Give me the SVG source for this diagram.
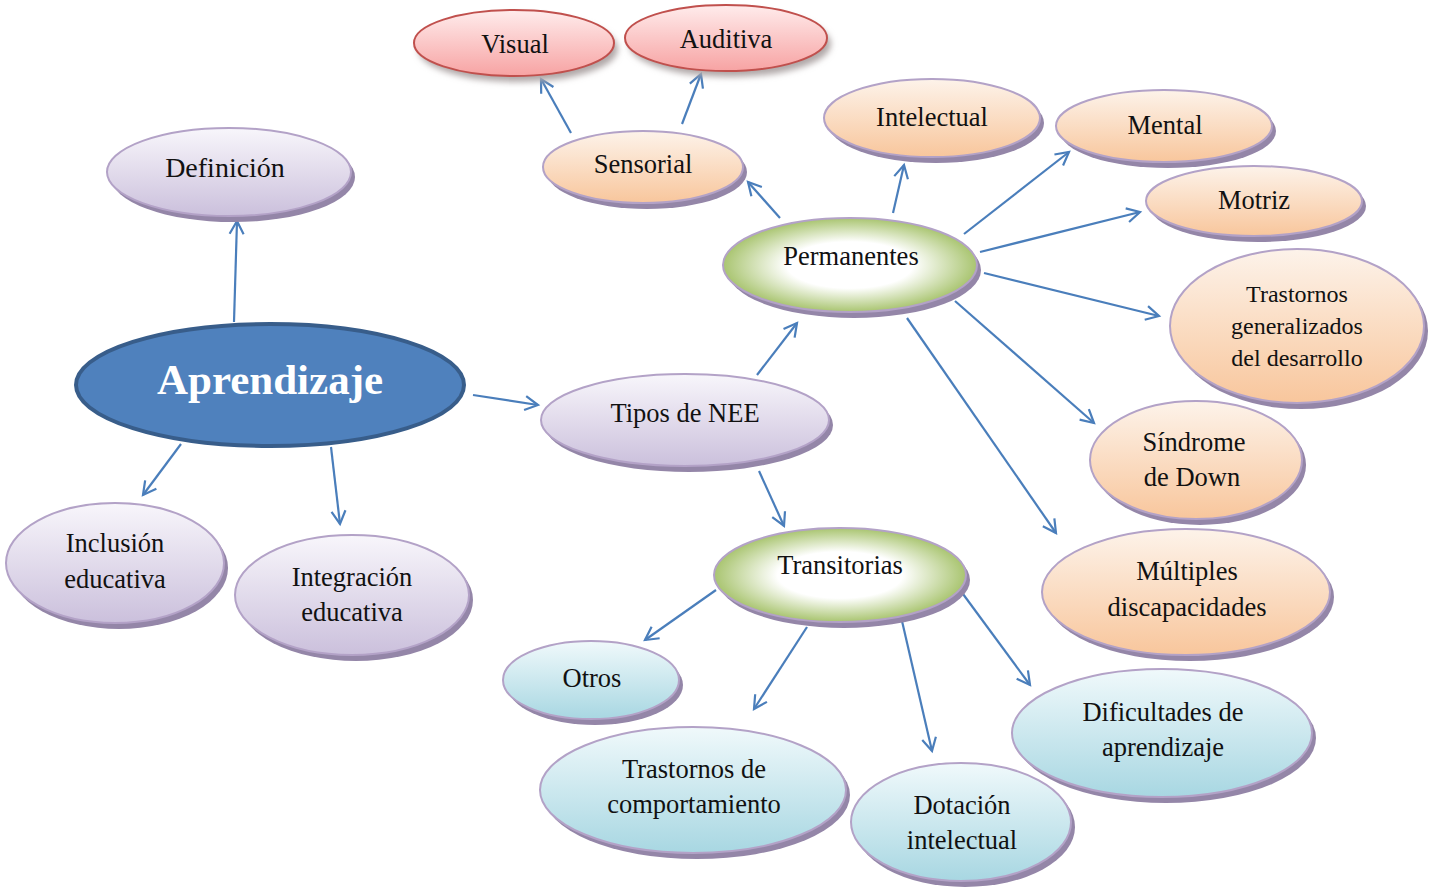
<svg xmlns="http://www.w3.org/2000/svg" width="1431" height="887" viewBox="0 0 1431 887">
<defs>
<linearGradient id="gLav" x1="0" y1="0" x2="0" y2="1"><stop offset="0" stop-color="#f8f6fb"/><stop offset="1" stop-color="#cbc0dc"/></linearGradient>
<linearGradient id="gPeach" x1="0" y1="0" x2="0" y2="1"><stop offset="0" stop-color="#fdf3ea"/><stop offset="1" stop-color="#f8c69c"/></linearGradient>
<linearGradient id="gCyan" x1="0" y1="0" x2="0" y2="1"><stop offset="0" stop-color="#f0f9fb"/><stop offset="1" stop-color="#a8d7e2"/></linearGradient>
<linearGradient id="gPink" x1="0" y1="0" x2="0" y2="1"><stop offset="0" stop-color="#ffecec"/><stop offset="1" stop-color="#f7a3a3"/></linearGradient>
<radialGradient id="gGreen" cx="0.5" cy="0.5" r="0.55"><stop offset="0" stop-color="#ffffff"/><stop offset="0.45" stop-color="#ffffff"/><stop offset="1" stop-color="#98b954"/></radialGradient>
<filter id="soft" x="-20%" y="-20%" width="140%" height="150%"><feGaussianBlur stdDeviation="3"/></filter>
<marker id="arr" markerUnits="userSpaceOnUse" markerWidth="18" markerHeight="18" refX="15" refY="9" orient="auto"><path d="M2,2 L15,9 L2,16" fill="none" stroke="#4a7ebb" stroke-width="2.2"/></marker>
</defs>
<style>
.sh{fill:#9486a8}
.shr{fill:#b0a8a8;filter:url(#soft)}
.lav{fill:url(#gLav);stroke:#b3a2c7;stroke-width:2}
.pea{fill:url(#gPeach);stroke:#b3a2c7;stroke-width:2}
.cya{fill:url(#gCyan);stroke:#b3a2c7;stroke-width:2}
.grn{fill:url(#gGreen);stroke:#b3a2c7;stroke-width:2}
.pnk{fill:url(#gPink);stroke:#c0504d;stroke-width:2}
text{font-family:"Liberation Serif","Times New Roman",serif;font-size:26.5px;fill:#111;text-anchor:middle}
.c line{stroke:#4a7ebb;stroke-width:2.2;marker-end:url(#arr)}
</style>
<rect width="1431" height="887" fill="#ffffff"/>

<g class="c" id="connectors">
<line x1="234" y1="322" x2="237" y2="221"/>
<line x1="181" y1="444" x2="143" y2="495"/>
<line x1="331" y1="447" x2="340" y2="524"/>
<line x1="473" y1="395" x2="538" y2="405"/>
<line x1="757" y1="375" x2="797" y2="323"/>
<line x1="759" y1="471" x2="784" y2="526"/>
<line x1="780" y1="218" x2="748" y2="182"/>
<line x1="571" y1="133" x2="541" y2="79"/>
<line x1="682" y1="124" x2="701" y2="74"/>
<line x1="893" y1="213" x2="904" y2="165"/>
<line x1="964" y1="234" x2="1069" y2="152"/>
<line x1="980" y1="252" x2="1140" y2="212"/>
<line x1="984" y1="273" x2="1159" y2="316"/>
<line x1="955" y1="301" x2="1094" y2="423"/>
<line x1="907" y1="318" x2="1056" y2="533"/>
<line x1="716" y1="590" x2="645" y2="640"/>
<line x1="807" y1="627" x2="754" y2="709"/>
<line x1="902" y1="621" x2="932" y2="751"/>
<line x1="963" y1="594" x2="1030" y2="685"/>
</g>

<g id="aprendizaje">
<ellipse cx="270" cy="385" rx="194" ry="61" fill="#4f81bd" stroke="#385d8a" stroke-width="4"/>
<text x="270" y="394" style="font-size:43px;font-weight:bold;fill:#ffffff">Aprendizaje</text>
</g>

<g id="definicion">
<ellipse class="sh" cx="233" cy="177" rx="122" ry="45"/>
<ellipse class="lav" cx="229" cy="172" rx="122" ry="44"/>
<text x="225" y="177" style="font-size:28px">Definición</text>
</g>

<g id="inclusion">
<ellipse class="sh" cx="119" cy="568" rx="109" ry="61"/>
<ellipse class="lav" cx="115" cy="563" rx="109" ry="60"/>
<text x="115" y="552">Inclusión</text>
<text x="115" y="588">educativa</text>
</g>

<g id="integracion">
<ellipse class="sh" cx="356" cy="600" rx="117" ry="61"/>
<ellipse class="lav" cx="352" cy="595" rx="117" ry="60"/>
<text x="352" y="586">Integración</text>
<text x="352" y="621">educativa</text>
</g>

<g id="tipos">
<ellipse class="sh" cx="689" cy="425" rx="144" ry="47"/>
<ellipse class="lav" cx="685" cy="420" rx="144" ry="46"/>
<text x="685" y="422">Tipos de NEE</text>
</g>

<g id="permanentes">
<ellipse class="sh" cx="854" cy="270" rx="127" ry="48"/>
<ellipse class="grn" cx="850" cy="265" rx="127" ry="47"/>
<text x="851" y="265">Permanentes</text>
</g>

<g id="transitorias">
<ellipse class="sh" cx="844" cy="580" rx="126" ry="48"/>
<ellipse class="grn" cx="840" cy="575" rx="126" ry="47"/>
<text x="840" y="574">Transitorias</text>
</g>

<g id="sensorial">
<ellipse class="sh" cx="647" cy="172" rx="100" ry="37"/>
<ellipse class="pea" cx="643" cy="167" rx="100" ry="36"/>
<text x="643" y="173">Sensorial</text>
</g>

<g id="visual">
<ellipse class="shr" cx="518" cy="49" rx="100" ry="33"/>
<ellipse class="pnk" cx="514" cy="43" rx="100" ry="33"/>
<text x="515" y="53">Visual</text>
</g>

<g id="auditiva">
<ellipse class="shr" cx="730" cy="44" rx="101" ry="33"/>
<ellipse class="pnk" cx="726" cy="38" rx="101" ry="33"/>
<text x="726" y="48">Auditiva</text>
</g>

<g id="intelectual">
<ellipse class="sh" cx="936" cy="123" rx="108" ry="40"/>
<ellipse class="pea" cx="932" cy="118" rx="108" ry="39"/>
<text x="932" y="126">Intelectual</text>
</g>

<g id="mental">
<ellipse class="sh" cx="1168" cy="131" rx="108" ry="37"/>
<ellipse class="pea" cx="1164" cy="126" rx="108" ry="36"/>
<text x="1165" y="134">Mental</text>
</g>

<g id="motriz">
<ellipse class="sh" cx="1258" cy="206" rx="108" ry="36"/>
<ellipse class="pea" cx="1254" cy="201" rx="108" ry="35"/>
<text x="1254" y="209">Motriz</text>
</g>

<g id="tgd">
<ellipse class="sh" cx="1301" cy="331" rx="127" ry="78"/>
<ellipse class="pea" cx="1297" cy="326" rx="127" ry="77"/>
<text x="1297" y="302" style="font-size:24px">Trastornos</text>
<text x="1297" y="334" style="font-size:24px">generalizados</text>
<text x="1297" y="366" style="font-size:24px">del desarrollo</text>
</g>

<g id="sindrome">
<ellipse class="sh" cx="1200" cy="465" rx="106" ry="60"/>
<ellipse class="pea" cx="1196" cy="460" rx="106" ry="59"/>
<text x="1194" y="451">Síndrome</text>
<text x="1192" y="486">de Down</text>
</g>

<g id="multiples">
<ellipse class="sh" cx="1190" cy="597" rx="144" ry="64"/>
<ellipse class="pea" cx="1186" cy="592" rx="144" ry="63"/>
<text x="1187" y="580">Múltiples</text>
<text x="1187" y="616">discapacidades</text>
</g>

<g id="dificultades">
<ellipse class="sh" cx="1166" cy="738" rx="150" ry="65"/>
<ellipse class="cya" cx="1162" cy="733" rx="150" ry="64"/>
<text x="1163" y="721">Dificultades de</text>
<text x="1163" y="756">aprendizaje</text>
</g>

<g id="dotacion">
<ellipse class="sh" cx="965" cy="827" rx="110" ry="60"/>
<ellipse class="cya" cx="961" cy="822" rx="110" ry="59"/>
<text x="962" y="814">Dotación</text>
<text x="962" y="849">intelectual</text>
</g>

<g id="trastornos-comp">
<ellipse class="sh" cx="697" cy="795" rx="153" ry="64"/>
<ellipse class="cya" cx="693" cy="790" rx="153" ry="63"/>
<text x="694" y="778">Trastornos de</text>
<text x="694" y="813">comportamiento</text>
</g>

<g id="otros">
<ellipse class="sh" cx="595" cy="685" rx="88" ry="40"/>
<ellipse class="cya" cx="591" cy="680" rx="88" ry="39"/>
<text x="592" y="687">Otros</text>
</g>
</svg>
